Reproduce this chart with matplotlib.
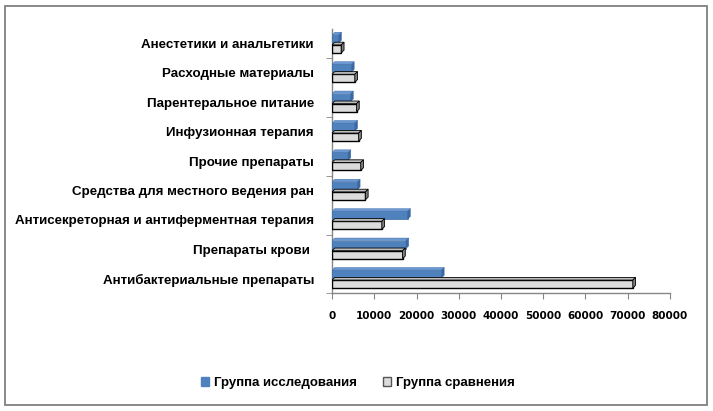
import matplotlib
matplotlib.use("Agg")
import matplotlib.pyplot as plt
from matplotlib.patches import Patch, Polygon, Rectangle

# categories from bottom to top
categories = [
    "Антибактериальные препараты",
    "Препараты крови ",
    "Антисекреторная и антиферментная терапия",
    "Средства для местного ведения ран",
    "Прочие препараты",
    "Инфузионная терапия",
    "Парентеральное питание",
    "Расходные материалы",
    "Анестетики и анальгетики",
]
study = [25900, 17500, 17900, 6000, 3800, 5400, 4400, 4600, 1600]
compare = [71200, 16700, 11800, 7900, 6800, 6300, 5800, 5400, 2200]
series_names = ["Группа исследования", "Группа сравнения"]
x_ticks = [0, 10000, 20000, 30000, 40000, 50000, 60000, 70000, 80000]

BAR_H = 0.27
DX = 650    # depth in data units along x
DY = 0.09   # depth in category units


def draw_3d_bars(ax, values, base, front, top, side, edge, lw):
    ys = [i + base for i in range(len(values))]
    ax.barh(ys, values, height=BAR_H, align="edge", color=front,
            edgecolor=edge, linewidth=lw, zorder=3)
    for y, v in zip(ys, values):
        ax.add_patch(Polygon([(0, y + BAR_H), (DX, y + BAR_H + DY),
                              (v + DX, y + BAR_H + DY), (v, y + BAR_H)],
                             closed=True, facecolor=top, edgecolor=edge,
                             linewidth=lw * 0.6, zorder=3))
        ax.add_patch(Polygon([(v, y), (v + DX, y + DY),
                              (v + DX, y + BAR_H + DY), (v, y + BAR_H)],
                             closed=True, facecolor=side, edgecolor=edge,
                             linewidth=lw * 0.6, zorder=3))


fig = plt.figure(figsize=(7.13, 4.11), dpi=100)
fig.patch.set_facecolor("white")
ax = fig.add_axes([332 / 713, 1 - 293.3 / 411, 338 / 713, 264.6 / 411])

draw_3d_bars(ax, study, 0.02, "#4F81BD", "#6B98D2", "#3B68A0", "#3A6BA5", 0.5)
draw_3d_bars(ax, compare, -0.32, "#DCDCDC", "#BEBEBE", "#7F7F7F", "black", 1.0)

ax.set_xlim(0, 80000)
ax.set_ylim(-0.5, 8.5)
ax.set_xticks(x_ticks)
ax.set_xticklabels([str(t) for t in x_ticks], fontsize=7.5, fontweight="bold",
                   family="DejaVu Sans")
ax.set_yticks(range(len(categories)))
ax.set_yticklabels(categories, fontsize=9.6, fontweight="bold",
                   family="Liberation Sans")
ax.tick_params(axis="y", length=0, pad=13)
ax.set_yticks([-0.5, 1.5, 3.5, 5.5, 7.5], minor=True)
ax.tick_params(axis="y", which="minor", length=4, color="#868686")
ax.tick_params(axis="x", length=4, color="#868686", pad=9)

for s in ["top", "right"]:
    ax.spines[s].set_visible(False)
for s in ["left", "bottom"]:
    ax.spines[s].set_color("#868686")
    ax.spines[s].set_linewidth(1.0)

handles = [Patch(facecolor="#4F81BD", edgecolor="#4F81BD"),
           Patch(facecolor="#DCDCDC", edgecolor="#555555")]
fig.legend(handles, series_names, loc="center", bbox_to_anchor=(0.502, 0.068),
           ncol=2, frameon=False, handlelength=0.6, handleheight=0.6,
           handletextpad=0.4, columnspacing=2.0,
           prop={"family": "Liberation Sans", "weight": "bold", "size": 9.5})

fig.patches.append(Rectangle((5 / 713, 6 / 411), 702 / 713, 399 / 411,
                             transform=fig.transFigure, fill=False,
                             edgecolor="#808080", linewidth=1.3))

fig.savefig("out.png", dpi=100)
